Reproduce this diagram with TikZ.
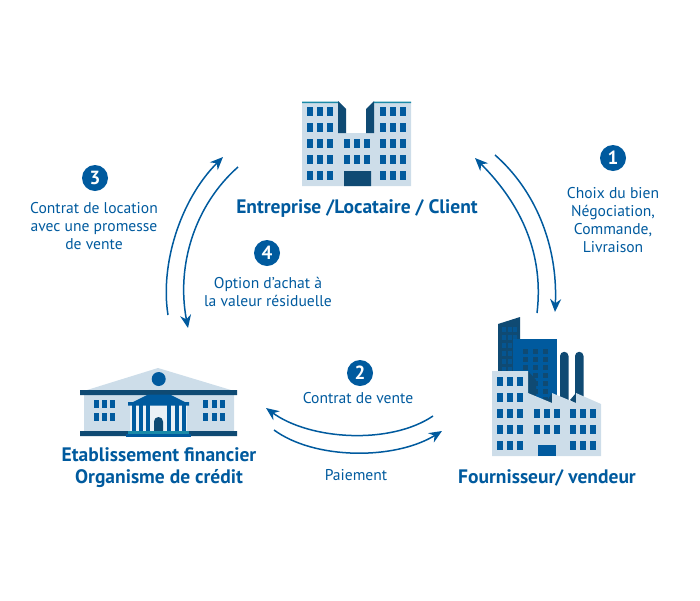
\documentclass[tikz,border=0pt]{standalone}
\usepackage{fontspec}
\setmainfont{PT Sans}
\usetikzlibrary{arrows.meta}
\definecolor{bleu}{HTML}{005A9E}
\definecolor{nuit}{HTML}{0F4A73}
\definecolor{clair}{HTML}{CDDDE9}
\definecolor{canard}{HTML}{1A8AA8}
\begin{document}
\begin{tikzpicture}[x=1pt, y=-1pt, line cap=butt, line join=round, >={Stealth[length=13pt,width=11pt]}]
	\tikzset{texte/.style={text=bleu, align=center, font=\fontsize{15.6}{18}\selectfont, inner sep=0pt},
		titre/.style={text=bleu, align=center, font=\fontsize{19.5}{22}\selectfont\bfseries, inner sep=0pt},
		numero/.style={circle, fill=bleu, text=white, minimum size=26pt, inner sep=0pt, font=\fontsize{19}{19}\selectfont\bfseries},
		fleche/.style={->, bleu, line width=1.5pt}}
	\useasboundingbox (0,0) rectangle (700,600);
	% immeuble
	\fill[clair] (302,102) rectangle (338,186) (374,102) rectangle (411,186) (338,133) rectangle (374,186);
	\fill[nuit] (338,101)--(346,109)--(346,133)--(338,133)--cycle (374,101)--(366,109)--(366,133)--(374,133)--cycle (344,171) rectangle (371,186);
	\fill[canard] (302,101.5) rectangle (338,103) (374,101.5) rectangle (411,103);
	\foreach \x in {310,320,330,383,393,403}
		\foreach \y in {111,127,143,159,175}
			\fill[bleu] ({\x-3},{\y-4.5}) rectangle ++(6,9);
	\foreach \x in {347,357,367}
		\foreach \y in {143,159}
			\fill[bleu] ({\x-3},{\y-4.5}) rectangle ++(6,9);
	% usine
	\fill[nuit] (498,324)--(520,317)--(520,375)--(498,375)--cycle;
	\foreach \x in {504,509.5,515}
		\foreach \y in {329,337,345,353,361,369}
			\fill[bleu!70!nuit] ({\x-2},{\y-2.5}) rectangle ++(4,5);
	\fill[bleu] (513,339) rectangle (557,402);
	\foreach \x in {525,535,545}
		\foreach \y in {351,359,367,375,383,391,399}
			\fill[nuit] ({\x-2.5},{\y-2.5}) rectangle ++(5,5);
	\fill[nuit] (560,402)--(560,356) arc[start angle=180, end angle=360, radius=4.25]--(568.5,402)--cycle;
	\fill[nuit] (575,405)--(575,356) arc[start angle=180, end angle=360, radius=4.25]--(583.5,405)--cycle;
	\fill[nuit] (528,371)--(536,380)--(536,398)--(528,394)--cycle (552,393)--(547,401)--(552,404)--cycle (576,393)--(570,400)--(576,404)--cycle;
	\fill[clair] (492,456)--(492,371)--(528,371)--(528,393)--(552,403)--(552,393)--(576,403)--(576,393)--(601,404)--(601,456)--cycle;
	\foreach \x in {500,510,520}
		\foreach \y in {381,397,413,429,445}
			\fill[bleu] ({\x-3},{\y-4.5}) rectangle ++(6,9);
	\foreach \x in {537,547,557}
		\foreach \y in {413,429}
			\fill[bleu] ({\x-3},{\y-4.5}) rectangle ++(6,9);
	\foreach \x in {573,583,593}
		\foreach \y in {413,429,445}
			\fill[bleu] ({\x-3},{\y-4.5}) rectangle ++(6,9);
	\fill[bleu] (538,445) rectangle (556,456);
	% banque
	\fill[clair] (87,390)--(158,368)--(231,390)--cycle (84,395) rectangle (234,432);
	\fill[bleu] (158.7,379) circle (7);
	\fill[nuit] (80,390) rectangle (237,395) (80,431) rectangle (237,436);
	\foreach \x in {96,104,112,205,214,222}
		\foreach \y in {404,417}
			\fill[bleu] ({\x-2.5},{\y-4}) rectangle ++(5,8);
	\fill[white!60!clair] (130,405) rectangle (187,431);
	\fill[bleu] (133,402)--(148,394.5)--(170,394.5)--(185,402)--cycle (128,402) rectangle (189,405.7);
	\foreach \x in {134,141,148,169,177,184}
		\fill[bleu] ({\x-1.6},405) rectangle ++(3.2,26);
	\fill[nuit] (154,432)--(154,421.5) arc[start angle=180, end angle=360, radius=4.5]--(163,432)--cycle;
	\fill[canard] (128,431) rectangle (189,433.5);
	\fill[bleu] (126,433.5) rectangle (191,437);
	% extremites des fleches
	\coordinate (c1a) at (495,155);
	\coordinate (c1b) at (555,312);
	\coordinate (c2a) at (537,313);
	\coordinate (c2b) at (475,158);
	\coordinate (c3a) at (168,315);
	\coordinate (c3b) at (223,157);
	\coordinate (c4a) at (238,167);
	\coordinate (c4b) at (188,328);
	\coordinate (c5a) at (433,416);
	\coordinate (c5b) at (266,408);
	\coordinate (c6a) at (274,430);
	\coordinate (c6b) at (442,431);
	\draw[fleche] (c1a) .. controls (535,190) and (558,245) .. (c1b);
	\draw[fleche] (c2a) .. controls (544,255) and (522,205) .. (c2b);
	\draw[fleche] (c3a) .. controls (160,265) and (180,200) .. (c3b);
	\draw[fleche] (c4a) .. controls (195,205) and (176,265) .. (c4b);
	\draw[fleche] (c5a) .. controls (390,445) and (310,440) .. (c5b);
	\draw[fleche] (c6a) .. controls (315,460) and (395,460) .. (c6b);
	% textes
	\node[numero] (n1) at (613,158) {1};
	\node[numero] (n2) at (360,373) {2};
	\node[numero] (n3) at (95,178) {3};
	\node[numero] (n4) at (267,253) {4};
	\node[texte] (t1) at (613,220) {Choix du bien\\Négociation,\\Commande,\\Livraison};
	\node[texte] (t2) at (358,398) {Contrat de vente};
	\node[texte] (t3) at (94,226) {Contrat de location\\avec une promesse\\de vente};
	\node[texte] (t4) at (268,292) {Option d’achat à\\la valeur résiduelle};
	\node[texte] (t5) at (356,475) {Paiement};
	\node[titre] (client) at (357,208) {Entreprise /Locataire / Client};
	\node[titre] (banque) at (159,468) {Etablissement financier\\Organisme de crédit};
	\node[titre] (vendeur) at (547,478) {Fournisseur/ vendeur};
\end{tikzpicture}
\end{document}
